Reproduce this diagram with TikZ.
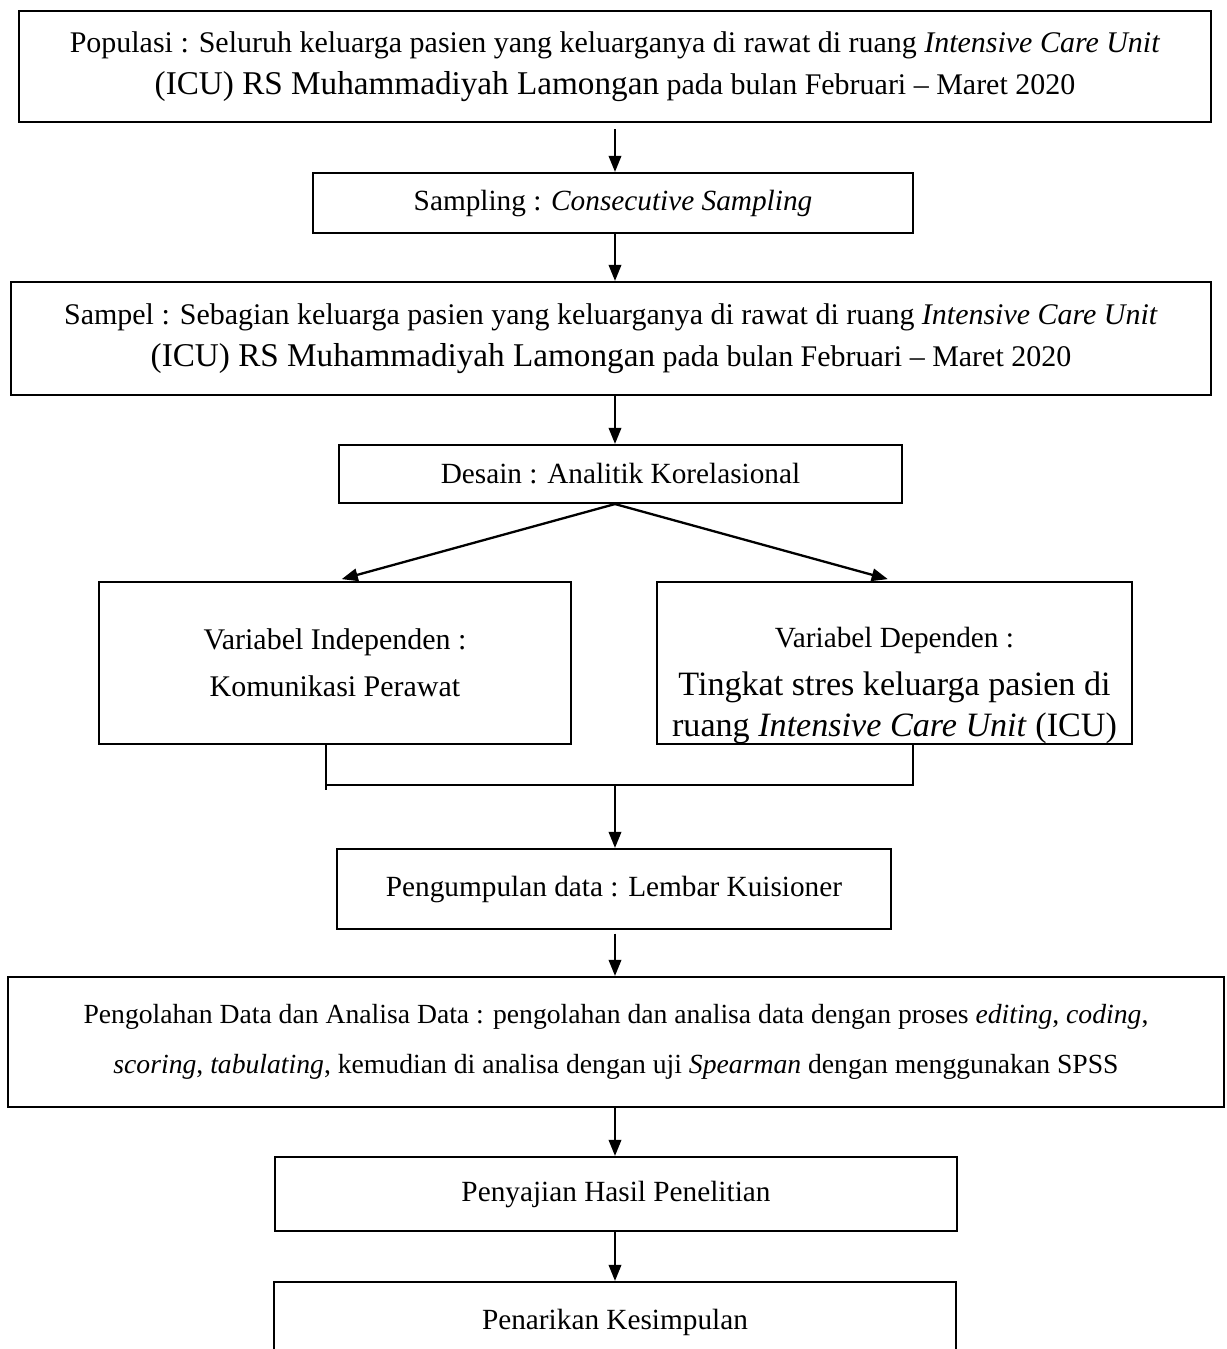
\documentclass[tikz,border=0pt]{standalone}
\usepackage{fontspec}
\setmainfont{Liberation Serif}
\usepackage{tikz}
\usetikzlibrary{positioning,arrows.meta}

\newlength{\px}
\setlength{\px}{0.01524cm}
\newcommand{\bigtx}[1]{{\fontsize{14.4}{18}\selectfont #1}}
\newcommand{\largetx}[1]{{\fontsize{14.8}{19}\selectfont #1}}

\begin{document}
\begin{tikzpicture}[x=\px,y=-\px,
        blk/.style={draw,line width=0.9pt,align=center,inner sep=0pt,
                    font=\fontsize{12.7}{18}\selectfont},
        wide/.style={font=\fontsize{13}{18.2}\selectfont},
        arr/.style={line width=1pt,-{Triangle[length=7pt,width=5.4pt]}}]
  \clip (0,0) rectangle (1227,1349);
  \coordinate (spine) at (615,0);
  % main column
  \node[blk,wide,minimum width=1192\px,minimum height=111\px] (pop) at (615,66.5)
    {Populasi : Seluruh keluarga pasien yang keluarganya di rawat di ruang \textit{Intensive Care Unit}\\
     \bigtx{(ICU) RS Muhammadiyah Lamongan} pada bulan Februari -- Maret 2020};
  \node[blk,minimum width=600\px,minimum height=60\px] (samp) at (613,203)
    {Sampling : \textit{Consecutive Sampling}};
  \node[blk,wide,minimum width=1200\px,minimum height=113\px] (sampel) at (611,338.5)
    {Sampel : Sebagian keluarga pasien yang keluarganya di rawat di ruang \textit{Intensive Care Unit}\\
     \bigtx{(ICU) RS Muhammadiyah Lamongan} pada bulan Februari -- Maret 2020};
  \node[blk,minimum width=563\px,minimum height=58\px] (desain) at (620.5,474)
    {Desain : Analitik Korelasional};
  \node[blk,minimum width=472\px,minimum height=162\px,
        font=\fontsize{13}{20.5}\selectfont] (ind) at (335,663)
    {Variabel Independen :\\ Komunikasi Perawat};
  \node[blk,minimum width=475\px,minimum height=162\px,
        font=\fontsize{12.7}{17.8}\selectfont] (dep) at (894.5,663)
    {\rule{0pt}{28pt}Variabel Dependen :\\[3pt] \largetx{Tingkat stres keluarga pasien di}\\
     \largetx{ruang \textit{Intensive Care Unit} (ICU)}};
  \node[blk,minimum width=554\px,minimum height=80\px] (kumpul) at (614,889)
    {Pengumpulan data : Lembar Kuisioner};
  \node[blk,minimum width=1216\px,minimum height=130\px,
        font=\fontsize{12}{21.6}\selectfont] (olah) at (616,1042)
    {Pengolahan Data dan Analisa Data : pengolahan dan analisa data dengan proses \textit{editing}, \textit{coding},\\
     \textit{scoring}, \textit{tabulating}, kemudian di analisa dengan uji \textit{Spearman} dengan menggunakan SPSS};
  \node[blk,minimum width=682\px,minimum height=74\px] (saji) at (616,1194)
    {Penyajian Hasil Penelitian};
  \node[blk,minimum width=682\px,minimum height=80\px] (tarik) at (615,1322)
    {Penarikan Kesimpulan};
  % connectors
  \draw[arr,shorten <=2.6pt] (pop.south -| spine) -- (samp.north -| spine);
  \draw[arr] (samp.south -| spine) -- (sampel.north -| spine);
  \draw[arr] (sampel.south -| spine) -- (desain.north -| spine);
  \draw[arr,shorten >=3pt] (desain.south -| spine) -- (ind.north);
  \draw[arr,shorten >=3pt] (desain.south -| spine) -- (dep.north);
  \coordinate (bl) at (326,785);
  \coordinate (br) at (913,785);
  \coordinate (jn) at (615,785);
  \draw[line width=0.9pt] (bl |- ind.south) -- ([yshift=-5\px]bl);
  \draw[line width=0.9pt] (br |- dep.south) |- (bl);
  \draw[arr] (jn) -- (kumpul.north -| jn);
  \draw[arr,shorten <=1.5pt] (kumpul.south -| spine) -- (olah.north -| spine);
  \draw[arr] (olah.south -| spine) -- (saji.north -| spine);
  \draw[arr] (saji.south -| spine) -- (tarik.north -| spine);
\end{tikzpicture}
\end{document}
